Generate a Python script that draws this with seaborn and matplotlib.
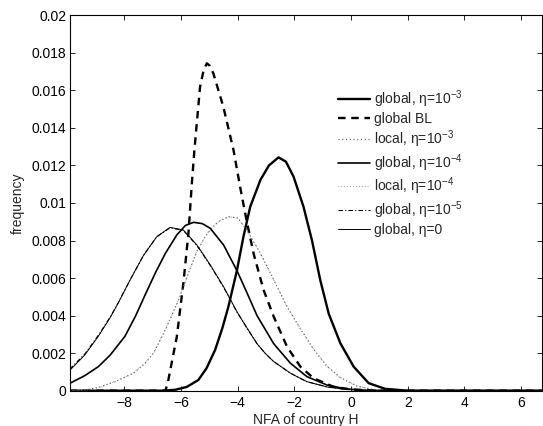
import numpy as np
import pandas as pd
import matplotlib
matplotlib.use("Agg")
import matplotlib.pyplot as plt
import seaborn as sns

# NFA grid edges
X_MIN, X_MAX = -9.93, 6.72

# global, eta = 1e-3
g3_x = [X_MIN, -6.6, -6.2, -5.8, -5.39, -5.1, -4.80, -4.55, -4.33, -4.03, -3.80, -3.56, -3.20, -2.90,
        -2.56, -2.30, -2.03, -1.68, -1.38, -1.09, -0.79, -0.38, 0.09, 0.62, 1.2, 2.0, X_MAX]
g3_y = [0, 0, 0.00005, 0.0002, 0.00057, 0.0012, 0.00217, 0.0033, 0.00448, 0.0064, 0.0082, 0.0098, 0.01123, 0.0120,
        0.01243, 0.0122, 0.0114, 0.0098, 0.0080, 0.0059, 0.0041, 0.00253, 0.00128, 0.0004, 0.0001, 0, 0]

# global BL
bl_x = [X_MIN, -6.55, -6.45, -6.15, -5.92, -5.74, -5.62, -5.53, -5.33, -5.20, -5.09, -4.98, -4.86,
        -4.51, -4.15, -3.91, -3.68, -3.44, -3.09, -2.73, -2.26, -1.79, -1.32, -0.61, 0.0, 0.6, 1.5, X_MAX]
bl_y = [0, 0, 0.00057, 0.00288, 0.00572, 0.00839, 0.01105, 0.01282, 0.0162, 0.0171, 0.01744, 0.0173, 0.0169,
        0.01513, 0.01282, 0.0108, 0.0090, 0.0073, 0.00537, 0.00394, 0.00234, 0.00128, 0.00066, 0.0002, 0.00007,
        0.00002, 0, 0]

# local, eta = 1e-3
l3_x = [X_MIN, -9.3, -8.86, -8.3, -7.68, -7.27, -6.97, -6.56, -6.09, -5.74, -5.45, -5.15, -4.90, -4.68,
        -4.33, -4.0, -3.68, -3.20, -2.73, -2.26, -1.79, -1.32, -0.85, -0.38, 0.2, 0.8, 1.5, X_MAX]
l3_y = [0, 0.00005, 0.0002, 0.0005, 0.00093, 0.00146, 0.0020, 0.00323, 0.00483, 0.00626, 0.0074, 0.00821, 0.0087,
        0.00901, 0.00927, 0.0092, 0.00856, 0.00732, 0.0059, 0.00448, 0.0033, 0.0022, 0.0013, 0.0007, 0.00025,
        0.00005, 0, 0]

# global, eta = 1e-4
g4_x = [X_MIN, -9.4, -8.92, -8.5, -7.98, -7.6, -7.27, -6.9, -6.56, -6.15, -5.85, -5.56, -5.25, -4.97,
        -4.50, -4.03, -3.70, -3.32, -2.73, -2.14, -1.56, -0.85, -0.2, 0.5, 1.5, X_MAX]
g4_y = [0.00039, 0.0008, 0.00128, 0.0019, 0.0029, 0.0040, 0.0051, 0.0063, 0.0073, 0.0083, 0.0088, 0.00897, 0.0089,
        0.00865, 0.00776, 0.0064, 0.0053, 0.0040, 0.0025, 0.00146, 0.00075, 0.0003, 0.0001, 0.00002, 0, 0]

# local, eta = 1e-4
l4_x = list(l3_x)
l4_y = [0, 0.00005, 0.0002, 0.0005, 0.00094, 0.00147, 0.0020, 0.00324, 0.00484, 0.00627, 0.0074, 0.00821, 0.0087,
        0.00900, 0.00926, 0.0092, 0.00855, 0.00731, 0.0059, 0.00447, 0.0033, 0.0022, 0.0013, 0.0007, 0.00025,
        0.00005, 0, 0]

# global, eta = 0
g0_x = [X_MIN, -9.4, -8.92, -8.5, -8.21, -7.80, -7.33, -6.86, -6.39, -5.92, -5.44, -4.97, -4.50, -4.03,
        -3.70, -3.32, -3.03, -2.73, -2.14, -1.56, -0.85, -0.2, 0.5, 1.5, X_MAX]
g0_y = [0.00108, 0.0019, 0.0029, 0.0039, 0.0047, 0.0059, 0.0072, 0.0082, 0.0087, 0.00856, 0.00776, 0.0067,
        0.00554, 0.00421, 0.0034, 0.0025, 0.00199, 0.00155, 0.00093, 0.00048, 0.0002, 0.00007, 0.00002, 0, 0]

# global, eta = 1e-5
g5_x = list(g0_x)
g5_y = [0.00115, 0.00195, 0.00295, 0.00393, 0.0047, 0.0059, 0.0072, 0.0082, 0.00868, 0.00854, 0.00773, 0.00667,
        0.00551, 0.00419, 0.0034, 0.0025, 0.00198, 0.00155, 0.00093, 0.00048, 0.0002, 0.00007, 0.00002, 0, 0]

y_ticks = [0, 0.002, 0.004, 0.006, 0.008, 0.01, 0.012, 0.014, 0.016, 0.018, 0.02]
y_tick_labels = ["0", "0.002", "0.004", "0.006", "0.008", "0.01", "0.012", "0.014", "0.016", "0.018", "0.02"]
x_ticks = [-8, -6, -4, -2, 0, 2, 4, 6]

sns.set_style("ticks")
plt.rcParams["font.family"] = ["Liberation Sans", "DejaVu Sans"]
plt.rcParams["mathtext.fontset"] = "custom"
plt.rcParams["mathtext.rm"] = "Liberation Sans"
plt.rcParams["mathtext.it"] = "Liberation Sans"
plt.rcParams["mathtext.default"] = "regular"
plt.rcParams["axes.unicode_minus"] = True

FS = 10

fig = plt.figure(figsize=(5.43, 4.26), dpi=100)
ax = fig.add_axes([0.1284, 0.0829, 0.8689, 0.8812])

series = [
    (g3_x, g3_y, "global, η=10$^{-3}$", dict(color="black", lw=1.7, ls="-")),
    (bl_x, bl_y, "global BL", dict(color="black", lw=1.7, ls=(0, (3.2, 2.4)))),
    (l3_x, l3_y, "local, η=10$^{-3}$", dict(color="#555555", lw=0.9, ls=(0, (0.8, 2.2)))),
    (g4_x, g4_y, "global, η=10$^{-4}$", dict(color="black", lw=1.2, ls="-")),
    (l4_x, l4_y, "local, η=10$^{-4}$", dict(color="#8a8a8a", lw=0.7, ls=(0, (0.8, 2.2)))),
    (g5_x, g5_y, "global, η=10$^{-5}$", dict(color="black", lw=0.8, ls=(0, (4, 2, 1, 2)))),
    (g0_x, g0_y, "global, η=0", dict(color="black", lw=0.7, ls="-")),
]

for xs, ys, name, style in series:
    df = pd.DataFrame({"NFA": xs, "freq": ys})
    sns.lineplot(data=df, x="NFA", y="freq", ax=ax, label=name, sort=False,
                 estimator=None, color=style["color"], linewidth=style["lw"],
                 linestyle=style["ls"])

ax.set_xlim(X_MIN, X_MAX)
ax.set_ylim(0, 0.02)
ax.set_xticks(x_ticks)
ax.set_xticklabels([str(t).replace("-", "\u2212") for t in x_ticks])
ax.set_yticks(y_ticks)
ax.set_yticklabels(y_tick_labels)
ax.tick_params(direction="in", length=3.5, width=0.6, top=True, right=True,
               labelsize=FS, colors="black", pad=2.5)
ax.tick_params(axis="x", pad=4)
for sp in ax.spines.values():
    sp.set_visible(True)
    sp.set_linewidth(0.8)
    sp.set_color("black")

ax.set_xlabel("NFA of country H", fontsize=FS, labelpad=2)
ax.set_ylabel("frequency", fontsize=FS, labelpad=5)

leg = ax.legend(frameon=False, loc="upper left", bbox_to_anchor=(0.5687, 0.805),
                fontsize=FS, handlelength=2.3, handletextpad=0.3, labelspacing=0.15,
                borderaxespad=0, borderpad=0)

fig.savefig("out.png", dpi=100)
